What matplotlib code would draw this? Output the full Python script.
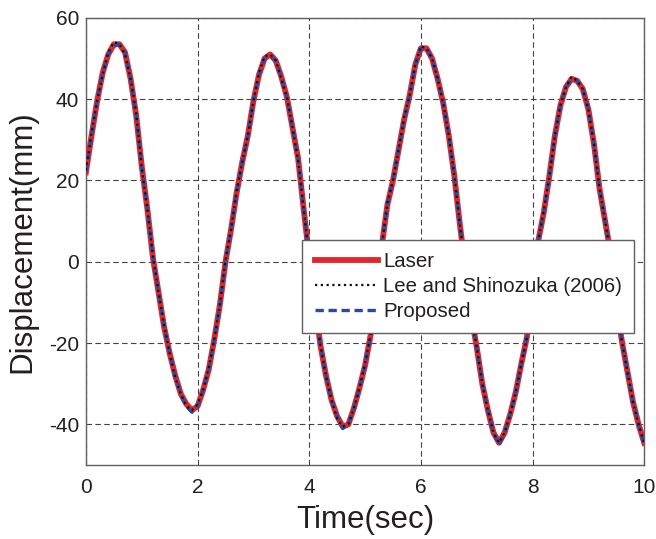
import numpy as np
import matplotlib
matplotlib.use('Agg')
import matplotlib.pyplot as plt

plt.rcParams['font.family'] = ['Liberation Sans', 'DejaVu Sans']
plt.rcParams['axes.unicode_minus'] = False

# time axis, 0.1 s sampling
time = np.round(np.arange(0, 10.01, 0.1), 1)

laser = [22, 31, 39.5, 46.5, 51, 53.5, 53.5, 51.5, 45, 36,
         23.5, 13, 1, -7.5, -16, -22.5, -28, -32.5, -35, -36.5,
         -35.5, -31.5, -26.5, -19, -10.5, 0, 8, 17, 24.5, 31,
         39.5, 46, 50, 51, 49.5, 45.5, 40.5, 33, 25.5, 13,
         1, -10, -20.5, -28, -34, -38, -40.5, -40, -36, -31,
         -25.5, -18, -8, 4, 14, 20, 27.5, 35, 41, 48.5,
         52.5, 52.5, 50, 45, 39, 31, 21, 9, -2, -13,
         -21, -30, -36.5, -42, -44.5, -42, -37.5, -32, -25, -18.5,
         -5, 5, 12, 21, 31, 38.5, 43, 45, 44.5, 42.5,
         37.5, 29, 18, 10, 2, -10, -19.5, -27, -34.5, -40,
         -44.5]

lee = [22.5, 31.5, 39.5, 46, 51.5, 54, 53.5, 51, 45, 36.5,
       23, 13, 1.5, -7.5, -15.5, -22.5, -28.5, -32.5, -35.5, -36.5,
       -35, -31.5, -26, -19, -10.5, 0.5, 8, 17.5, 24.5, 31,
       39.5, 46.5, 50.5, 51, 49.5, 45, 40.5, 33, 25, 13,
       1, -10.5, -20.5, -28, -34, -38.5, -40.5, -40, -36, -31,
       -25, -18, -8, 4, 14.5, 20, 27.5, 35.5, 41, 48.5,
       53, 52.5, 50, 45, 39, 31, 21, 9, -2, -13,
       -21, -30, -36.5, -42, -44.5, -42, -37.5, -32, -25, -18.5,
       -5, 5, 12.5, 21, 31, 38.5, 43, 45.5, 44.5, 42.5,
       37.5, 29, 18, 10, 2, -10, -19.5, -27, -34.5, -40,
       -44.5]

proposed = [22, 31, 39.5, 46.5, 51, 53, 53.5, 51.5, 45, 36,
            23.5, 13, 1, -7.5, -16, -22.5, -28, -32.5, -35.5, -37,
            -35.5, -31.5, -26.5, -19, -10.5, 0, 8, 17, 24.5, 31,
            39.5, 46, 50, 50.5, 49.5, 45.5, 40.5, 33, 25.5, 13,
            1, -10, -20.5, -28, -34, -38, -41, -40, -36, -31,
            -25.5, -18, -8, 4, 14, 20, 27.5, 35, 41, 48.5,
            52.5, 52.5, 50, 45, 39, 31, 21, 9, -2, -13,
            -21, -30, -36.5, -42, -45, -42, -37.5, -32, -25, -18.5,
            -5, 5, 12, 21, 31, 38.5, 43, 45, 44.5, 42.5,
            37.5, 29, 18, 10, 2, -10, -19.5, -27, -34.5, -40,
            -45]

xticks = [0, 2, 4, 6, 8, 10]
yticks = [-40, -20, 0, 20, 40, 60]

fig = plt.figure(figsize=(6.56, 5.39), dpi=100)
ax = fig.add_axes([0.131, 0.137, 0.851, 0.830])

l1, = ax.plot(time, laser, color='#e2252b', lw=4.2, label='Laser', zorder=3,
              solid_joinstyle='round')
l3, = ax.plot(time, proposed, color='#2b4c9e', lw=2.4, ls=(0, (2.5, 1.4)), label='Proposed', zorder=4)
l2, = ax.plot(time, lee, color='#111111', lw=1.6, ls=(0, (1, 1.6)), label='Lee and Shinozuka (2006)', zorder=5)

ax.set_xlim(0, 10)
ax.set_ylim(-50, 60)
ax.set_xticks(xticks)
ax.set_yticks(yticks)
ax.grid(True, color='#444444', ls=(0, (5, 3)), lw=0.8)
ax.tick_params(direction='in', length=0, labelsize=15, colors='#231f20')
ax.tick_params(axis='x', pad=9)
ax.tick_params(axis='y', pad=5)
for s in ax.spines.values():
    s.set_color('#606060')
    s.set_linewidth(1.0)

ax.set_xlabel('Time(sec)', fontsize=22.5, color='#231f20', labelpad=6)
ax.set_ylabel('Displacement(mm)', fontsize=22.5, color='#231f20', labelpad=8)

leg = ax.legend(handles=[l1, l2, l3], loc='upper right', bbox_to_anchor=(0.982, 0.503),
                fontsize=14.7, frameon=True, fancybox=False, edgecolor='#606060',
                framealpha=1, handlelength=3.1, handletextpad=0.25, borderpad=0.6,
                labelspacing=0.28, borderaxespad=0)
leg.set_zorder(10)
leg.get_frame().set_linewidth(1.0)
for t in leg.get_texts():
    t.set_color('#231f20')

fig.savefig('out.png', dpi=100)
